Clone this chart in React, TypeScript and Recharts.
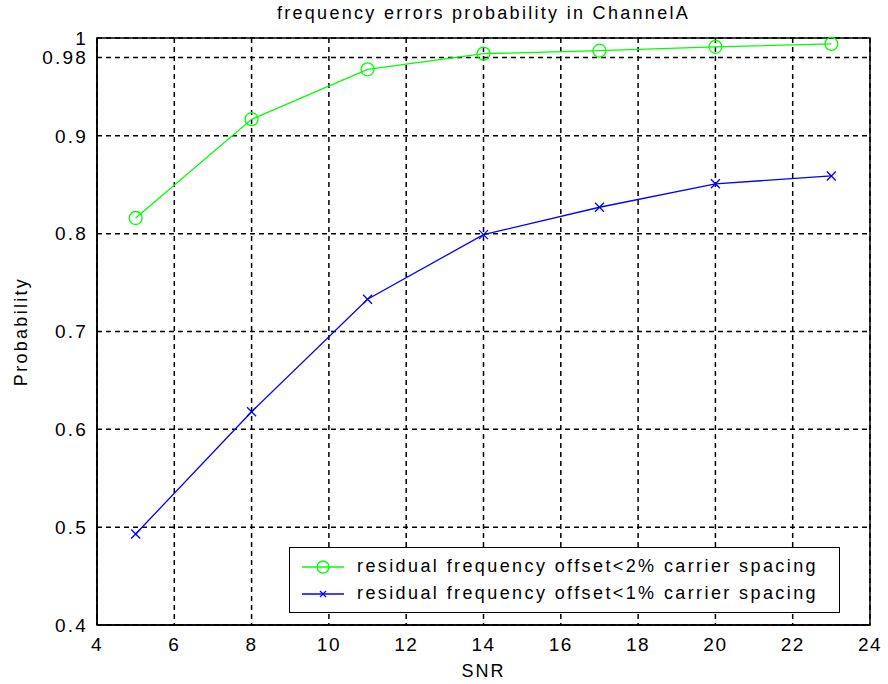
import React from "react";
import {
  LineChart,
  Line,
  XAxis,
  YAxis,
  CartesianGrid,
  ReferenceArea,
} from "recharts";

const snr = [5, 8, 11, 14, 17, 20, 23];
const prob2 = [0.816, 0.917, 0.968, 0.984, 0.987, 0.991, 0.994];
const prob1 = [0.493, 0.618, 0.733, 0.799, 0.827, 0.851, 0.859];
const xTicks = [4, 6, 8, 10, 12, 14, 16, 18, 20, 22, 24];
const yTicks = [0.4, 0.5, 0.6, 0.7, 0.8, 0.9, 0.98, 1];
const seriesNames = [
  "residual frequency offset<2% carrier spacing",
  "residual frequency offset<1% carrier spacing",
];
const title = "frequency errors probability in ChannelA";
const xLabel = "SNR";
const yLabel = "Probability";

const data = snr.map((s, i) => ({ snr: s, p2: prob2[i], p1: prob1[i] }));

const FONT = "'Liberation Sans', Arial, Helvetica, sans-serif";
const GREEN = "#00ff00";
const BLUE = "#0000ff";

const CircleDot = (props: any) => {
  const { cx, cy } = props;
  if (cx == null || cy == null) return null;
  return <circle cx={cx} cy={cy} r={6.5} fill="none" stroke={GREEN} strokeWidth={1.3} />;
};

const CrossDot = (props: any) => {
  const { cx, cy } = props;
  if (cx == null || cy == null) return null;
  const s = 4.5;
  return (
    <g stroke={BLUE} strokeWidth={1.3}>
      <line x1={cx - s} y1={cy - s} x2={cx + s} y2={cy + s} />
      <line x1={cx - s} y1={cy + s} x2={cx + s} y2={cy - s} />
    </g>
  );
};

const LegendBox = () => (
  <div
    style={{
      position: "absolute",
      left: 289,
      top: 547,
      border: "1.5px solid #000",
      background: "#fff",
      width: 551,
      height: 66,
      boxSizing: "border-box",
      fontFamily: FONT,
      fontSize: 18,
      letterSpacing: 2.4,
      color: "#000",
      paddingTop: 5,
    }}
  >
    {seriesNames.map((n, i) => (
      <div key={n} style={{ display: "flex", alignItems: "center", height: 27 }}>
        <svg width={67} height={20} style={{ flexShrink: 0 }}>
          <line x1={12} y1={10} x2={54} y2={10} stroke={i === 0 ? GREEN : BLUE} strokeWidth={1.3} />
          {i === 0 ? (
            <circle cx={33} cy={10} r={6} fill="none" stroke={GREEN} strokeWidth={1.3} />
          ) : (
            <g stroke={BLUE} strokeWidth={1.2}>
              <line x1={30} y1={7} x2={36} y2={13} />
              <line x1={30} y1={13} x2={36} y2={7} />
            </g>
          )}
        </svg>
        <span style={{ whiteSpace: "nowrap" }}>{n}</span>
      </div>
    ))}
  </div>
);

export default function App() {
  return (
    <div style={{ position: "absolute", left: 0, top: 0, width: 888, height: 684, background: "#fff" }}>
      <LineChart
        width={888}
        height={684}
        data={data}
        margin={{ top: 38, right: 18, bottom: 0, left: 0 }}
      >
        <CartesianGrid stroke="#000" strokeDasharray="5 4" strokeWidth={1.5} />
        <XAxis
          dataKey="snr"
          type="number"
          domain={[4, 24]}
          ticks={xTicks}
          height={59}
          tickLine={false}
          axisLine={{ stroke: "#000", strokeWidth: 1.5 }}
          tick={{ fill: "#000", fontSize: 19, fontFamily: FONT, letterSpacing: 1.5 }}
          tickMargin={7}
          label={{ value: xLabel, position: "insideBottom", offset: 7, fill: "#000", fontSize: 18, fontFamily: FONT, letterSpacing: 2 }}
        />
        <YAxis
          type="number"
          domain={[0.4, 1]}
          ticks={yTicks}
          width={97}
          interval={0}
          tickLine={false}
          axisLine={{ stroke: "#000", strokeWidth: 1.5 }}
          tick={{ fill: "#000", fontSize: 19, fontFamily: FONT, letterSpacing: 2.2 }}
          tickMargin={3}
          label={{ value: yLabel, angle: -90, position: "insideLeft", offset: 21, fill: "#000", fontSize: 18, fontFamily: FONT, letterSpacing: 2.3, style: { textAnchor: "middle" } }}
        />
        <ReferenceArea x1={4} x2={24} y1={0.4} y2={1} fill="none" stroke="#000" strokeWidth={1.5} ifOverflow="visible" />
        <Line
          dataKey="p2"
          stroke={GREEN}
          strokeWidth={1.3}
          dot={<CircleDot />}
          activeDot={false}
          isAnimationActive={false}
          name={seriesNames[0]}
        />
        <Line
          dataKey="p1"
          stroke={BLUE}
          strokeWidth={1.3}
          dot={<CrossDot />}
          activeDot={false}
          isAnimationActive={false}
          name={seriesNames[1]}
        />
      </LineChart>
      <div
        style={{
          position: "absolute",
          left: 97,
          width: 773,
          top: 3,
          textAlign: "center",
          fontFamily: FONT,
          fontSize: 18,
          letterSpacing: 2.3,
          color: "#000",
        }}
      >
        {title}
      </div>
      <LegendBox />
    </div>
  );
}
